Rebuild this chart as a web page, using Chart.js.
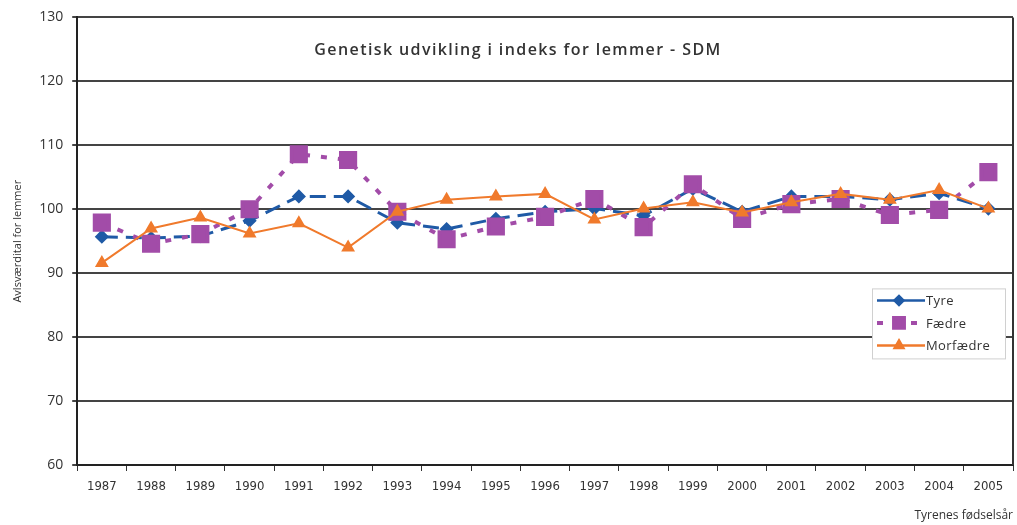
<!DOCTYPE html>
<html>
<head>
<meta charset="utf-8">
<script src="https://cdn.jsdelivr.net/npm/chart.js@4"></script>
<style>
  html, body { margin: 0; padding: 0; background: #fff; overflow: hidden; width: 1017px; height: 525px; }
  canvas { display: block; }
</style>
</head>
<body>
<canvas id="chart" width="1027" height="525"></canvas>
<script>
const years = ['1987','1988','1989','1990','1991','1992','1993','1994','1995','1996',
  '1997','1998','1999','2000','2001','2002','2003','2004','2005'];
const tyre = [95.7, 95.5, 95.8, 98.2, 102, 102, 97.9, 96.9, 98.5, 99.6,
  100.1, 99, 103.2, 99.6, 102, 102, 101.5, 102.5, 100.1];
const faedre = [97.9, 94.6, 96.1, 100, 108.6, 107.7, 99.6, 95.3, 97.3, 98.8,
  101.6, 97.2, 103.9, 98.5, 100.8, 101.6, 99.1, 99.9, 105.8];
const morfaedre = [91.6, 97, 98.7, 96.2, 97.8, 94, 99.6, 101.5, 102, 102.4,
  98.4, 100.1, 101.1, 99.5, 101.1, 102.4, 101.5, 103, 100.1];
const chartTitle = 'Genetisk udvikling i indeks for lemmer - SDM';
const yTitle = 'Avlsværdital for lemmer';
const xTitle = 'Tyrenes fødselsår';

const BLUE = '#1f5aa6', PURPLE = '#a24ca8', ORANGE = '#f07a2c';

// title inside the plot + right frame line
const insidePlugin = {
  id: 'inside',
  afterDraw(chart) {
    const { ctx, chartArea } = chart;
    ctx.save();
    ctx.strokeStyle = '#333';
    ctx.lineWidth = 2;
    ctx.beginPath();
    ctx.moveTo(chartArea.right, chartArea.top);
    ctx.lineTo(chartArea.right, chartArea.bottom);
    ctx.stroke();
    ctx.fillStyle = '#333';
    ctx.font = '600 16px "Open Sans", sans-serif';
    ctx.letterSpacing = '1.4px';
    ctx.textAlign = 'center';
    ctx.textBaseline = 'middle';
    ctx.fillText(chartTitle, 518, chartArea.top + 33);
    ctx.restore();
  }
};

// legend box in lower right of plot
const legendPlugin = {
  id: 'boxLegend',
  afterDraw(chart) {
    const { ctx, chartArea } = chart;
    const w = 133, h = 70;
    const x = chartArea.right - w - 8;
    const y = chartArea.top + 271;
    ctx.save();
    ctx.fillStyle = '#fff';
    ctx.fillRect(x, y, w, h);
    ctx.strokeStyle = '#d0d0d0';
    ctx.lineWidth = 1;
    ctx.strokeRect(x + 0.5, y + 0.5, w, h);
    const sizes = [4.5, 7, 5];
    chart.data.datasets.forEach((ds, i) => {
      const cy = y + 12 + i * 22.5;
      ctx.strokeStyle = ds.borderColor;
      ctx.lineWidth = i === 1 ? 4 : 2.5;
      ctx.setLineDash(i === 1 ? [6, 11] : []);
      ctx.beginPath();
      ctx.moveTo(x + 5, cy);
      ctx.lineTo(x + 53, cy);
      ctx.stroke();
      ctx.setLineDash([]);
      ctx.fillStyle = ds.pointBackgroundColor;
      ctx.strokeStyle = ds.pointBackgroundColor;
      Chart.helpers.drawPoint(ctx, {
        pointStyle: ds.pointStyle, rotation: 0, borderWidth: 1,
        radius: sizes[i]
      }, x + 27, cy);
      ctx.fillStyle = '#333';
      ctx.font = '13px "Open Sans", sans-serif';
      ctx.letterSpacing = '0.4px';
      ctx.textAlign = 'left';
      ctx.textBaseline = 'middle';
      ctx.fillText(ds.label, x + 54, cy + 1);
    });
    ctx.restore();
  }
};

new Chart(document.getElementById('chart'), {
  type: 'line',
  data: {
    labels: years,
    datasets: [
      {
        label: 'Tyre', data: tyre, borderColor: BLUE, borderWidth: 3,
        borderDash: [16, 8], pointStyle: 'rectRot', pointRadius: 5,
        pointBackgroundColor: BLUE, pointBorderColor: BLUE, order: 3
      },
      {
        label: 'Fædre', data: faedre, borderColor: PURPLE, borderWidth: 4,
        borderDash: [6, 11], pointStyle: 'rect', pointRadius: 10,
        pointBackgroundColor: PURPLE, pointBorderColor: PURPLE, order: 2
      },
      {
        label: 'Morfædre', data: morfaedre, borderColor: ORANGE, borderWidth: 2,
        pointStyle: 'triangle', pointRadius: 6,
        pointBackgroundColor: ORANGE, pointBorderColor: ORANGE, order: 1
      }
    ]
  },
  options: {
    responsive: false,
    maintainAspectRatio: false,
    animation: false,
    devicePixelRatio: 1,
    layout: { padding: { top: 8, right: 4, left: 11, bottom: 2 } },
    plugins: {
      legend: { display: false },
      tooltip: { enabled: false }
    },
    scales: {
      x: {
        offset: true,
        grid: { offset: true, drawOnChartArea: false, color: '#333', tickLength: 6, lineWidth: 1 },
        border: { color: '#222', width: 2 },
        ticks: {
          color: '#333', padding: 8,
          font: { family: '"Liberation Sans Narrow", "DejaVu Sans Condensed", sans-serif', size: 13 }
        },
        title: {
          display: true, text: xTitle, align: 'end', color: '#333',
          padding: { top: 6, bottom: 0 },
          font: { family: '"Open Sans", sans-serif', size: 12 }
        }
      },
      y: {
        min: 60, max: 130,
        ticks: {
          stepSize: 10, color: '#333', padding: 9,
          font: { family: '"Open Sans", sans-serif', size: 14 }
        },
        grid: { color: '#444', lineWidth: 2, tickLength: 5 },
        border: { color: '#222', width: 2 },
        title: {
          display: true, text: yTitle, color: '#333',
          padding: { top: 0, bottom: 6 },
          font: { family: '"Open Sans", sans-serif', size: 11 }
        }
      }
    }
  },
  plugins: [insidePlugin, legendPlugin]
});
</script>
</body>
</html>
